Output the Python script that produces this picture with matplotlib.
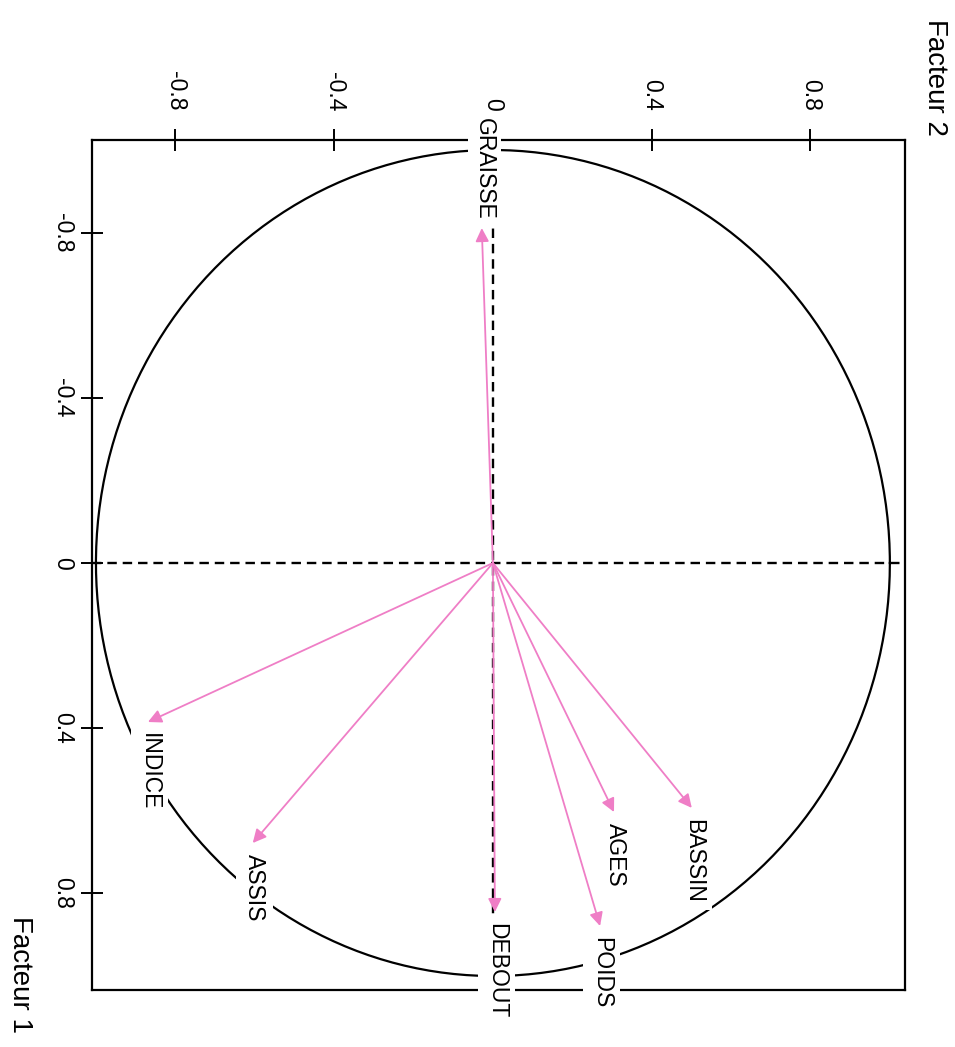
import numpy as np
import matplotlib
matplotlib.use("Agg")
import matplotlib.pyplot as plt

plt.rcParams['font.family'] = ['Liberation Sans', 'DejaVu Sans']

# Data: correlation of variables with factors (Facteur 1, Facteur 2)
variables = ["GRAISSE", "INDICE", "ASSIS", "DEBOUT", "POIDS", "AGES", "BASSIN"]
facteur1 = [-0.811, 0.385, 0.678, 0.845, 0.879, 0.603, 0.593]
facteur2 = [-0.028, -0.869, -0.605, 0.005, 0.270, 0.305, 0.501]
tick_values = [-0.8, -0.4, 0.0, 0.4, 0.8]
tick_labels = ["-0.8", "-0.4", "0", "0.4", "0.8"]

pink = '#EF7EC6'

fig = plt.figure(figsize=(9.55, 10.47), dpi=100)
ax = fig.add_axes([0.0963, 0.0544, 0.8513, 0.8118])
ax.set_xlim(-1.010, 1.038)
ax.set_ylim(1.034, -1.024)

# circle
t = np.linspace(0, 2 * np.pi, 400)
ax.plot(np.cos(t), np.sin(t), color='black', lw=1.6, zorder=2)

# dashed axes
ax.axhline(0, color='black', lw=1.7, ls=(0, (4, 2.5)), zorder=1)
ax.axvline(0, color='black', lw=1.7, ls=(0, (4, 2.5)), zorder=1)

# arrows and labels
for name, f1, f2 in zip(variables, facteur1, facteur2):
    ax.annotate('', xy=(f2, f1), xytext=(0, 0),
                arrowprops=dict(arrowstyle='-|>', color=pink, lw=1.3,
                                mutation_scale=20, shrinkA=0, shrinkB=0),
                zorder=3)
    if f1 < 0:
        ax.annotate(name, xy=(f2, f1), xytext=(2, 6), textcoords='offset points',
                    rotation=-90, rotation_mode='anchor', ha='right', va='center',
                    fontsize=16.5, zorder=6, annotation_clip=False,
                    bbox=dict(boxstyle='square,pad=0.2', fc='white', ec='none'))
    else:
        ax.annotate(name, xy=(f2, f1), xytext=(1, -8), textcoords='offset points',
                    rotation=-90, rotation_mode='anchor', ha='left', va='center',
                    fontsize=16.5, zorder=6, annotation_clip=False,
                    bbox=dict(boxstyle='square,pad=0.3', fc='white', ec='none'))

# axes styling
for s in ax.spines.values():
    s.set_linewidth(1.6)
    s.set_zorder(4)
ax.xaxis.tick_top()
ax.set_xticks(tick_values)
ax.set_xticklabels(tick_labels, rotation=-90, ha='center', va='bottom')
ax.set_yticks(tick_values)
ax.set_yticklabels(tick_labels, rotation=-90, ha='right', va='center')
ax.tick_params(axis='both', direction='inout', length=16, width=1.4,
               labelsize=16.5)
ax.tick_params(axis='x', top=True, bottom=False, labeltop=True, labelbottom=False, pad=13)
ax.tick_params(axis='y', left=True, right=False, labelleft=True, labelright=False, pad=5)

fig.text(0.979, 0.926, "Facteur 2", rotation=-90, ha='center', va='center', fontsize=20)
fig.text(0.021, 0.069, "Facteur 1", rotation=-90, ha='center', va='center', fontsize=20)

fig.savefig("out.png", dpi=100)
